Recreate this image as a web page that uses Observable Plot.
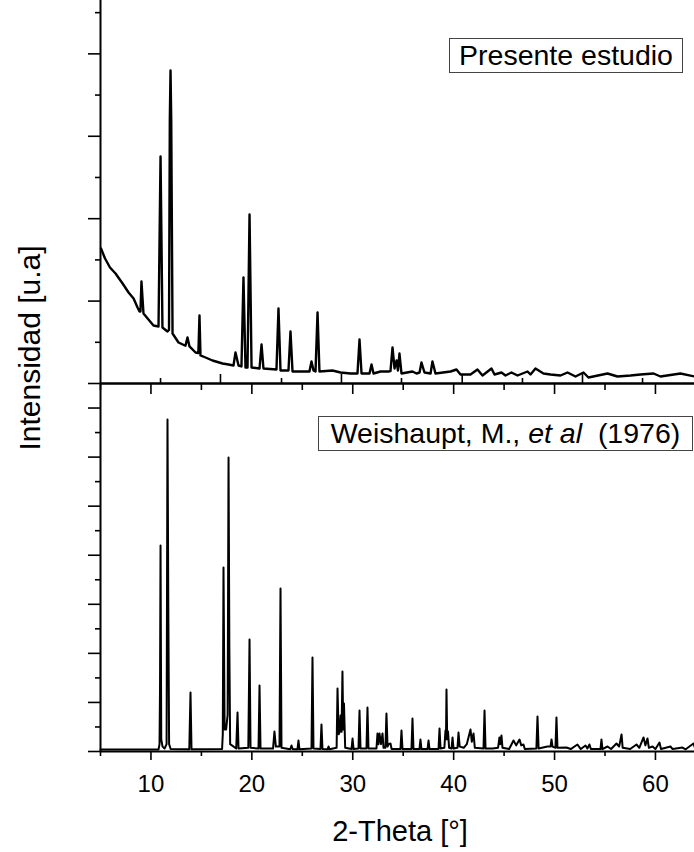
<!DOCTYPE html>
<html>
<head>
<meta charset="utf-8">
<script src="https://cdn.jsdelivr.net/npm/d3@7"></script>
<script src="https://cdn.jsdelivr.net/npm/@observablehq/plot@0.6"></script>
<style>
  html, body { margin: 0; padding: 0; background: #fff; }
  #chart { position: relative; width: 694px; height: 852px; overflow: hidden;
           font-family: "Liberation Sans", Arial, sans-serif; color: #000; }
  #top, #bottom { position: absolute; left: 0; }
  #top { top: 0; }
  #bottom { top: 383px; }
  .box { position: absolute; box-sizing: border-box; border: 1px solid #444; background: #fff;
         font-size: 28.5px; line-height: 33px; text-align: center; white-space: nowrap; }
  #box1 { left: 449px; top: 38px; width: 234px; height: 35px; }
  #box2 { left: 318px; top: 416px; width: 375px; height: 35px; }
  .ylab { position: absolute; left: 30px; top: 348px; font-size: 30px; white-space: nowrap;
          transform: translate(-50%, -50%) rotate(-90deg); }
  .xlab { position: absolute; left: 400px; top: 831px; font-size: 29px; white-space: nowrap;
          transform: translate(-50%, -50%); }
</style>
</head>
<body>
<div id="chart">
  <div id="top"></div>
  <div id="bottom"></div>
  <div class="ylab" id="ylab"></div>
  <div class="xlab" id="xlab"></div>
  <div class="box" id="box1"></div>
  <div class="box" id="box2"></div>
</div>
<script>
// ---------- data ----------
// Present study pattern: [2-theta (deg), intensity (counts)]
const presenteEstudio = [
  [5.05,3276],[5.45,3033],[5.94,2815],[6.49,2670],[7.19,2427],[7.78,2208],[8.28,2063],[8.67,1845],
  [8.87,1747],[8.96,1747],[9.06,2476],[9.26,1699],
  [10.25,1408],[10.75,1383],[10.95,5509],[11.14,1359],[11.64,1262],[11.79,1300],[11.87,6383],
  [11.94,7597],[12.01,6383],[12.14,1214],[12.73,995],[13.42,917],[13.62,1116],[13.82,900],
  [14.42,752],[14.70,740],[14.81,1650],[14.91,680],[15.41,631],[16.10,558],[17.10,485],[17.69,460],[18.18,437],
  [18.38,752],[18.68,437],[18.97,413],[19.17,2573],[19.37,388],[19.57,388],[19.77,4102],
  [19.97,388],[20.76,364],[20.96,947],[21.15,364],[22.44,340],[22.64,1820],[22.84,316],
  [23.63,316],[23.83,1262],[24.03,291],[25.32,291],[25.71,291],[25.91,534],[26.11,316],
  [26.31,291],[26.51,1723],[26.70,291],[27.99,316],[28.79,267],[29.78,243],[30.47,243],
  [30.67,1068],[30.87,243],[31.66,243],[31.86,461],[32.06,243],[32.75,291],[33.54,291],
  [33.74,300],[33.94,874],[34.14,364],[34.34,558],[34.48,316],[34.63,728],[34.83,243],
  [35.92,291],[36.32,243],[36.62,267],[36.81,510],[37.11,267],[37.71,243],[37.90,534],
  [38.20,243],[39.69,291],[40.28,340],[40.68,218],[41.67,218],[42.36,340],[42.86,194],
  [43.75,364],[44.05,218],[44.74,267],[45.14,194],[45.73,267],[46.33,194],[47.32,291],
  [47.62,218],[48.11,364],[48.90,243],[49.60,218],[50.59,194],[51.28,267],[52.08,170],
  [52.87,267],[53.36,146],[55.25,243],[56.24,170],[57.53,194],[58.52,218],[59.81,243],
  [60.50,170],[62.48,243],[63.87,170]
];

// Reference pattern (Weishaupt et al. 1976): [2-theta (deg), intensity (counts)]
const weishaupt1976 = [
  [5.00,80],[10.75,80],[10.85,300],[10.90,2609],[10.95,8399],[11.02,500],[11.15,200],[11.35,120],
  [11.55,300],[11.64,13536],[11.72,5912],[11.80,300],[11.95,100],[13.80,90],[13.92,2405],[14.02,90],
  [17.05,100],[17.12,700],[17.19,7502],[17.30,900],[17.45,900],[17.60,1500],[17.69,11986],[17.77,4240],
  [17.85,300],[18.45,120],[18.58,1590],[18.68,120],[19.65,150],[19.77,4566],[19.87,150],[20.66,120],
  [20.76,2691],[20.86,120],[22.10,120],[22.24,815],[22.38,200],[22.74,200],[22.84,6646],[22.94,150],
  [23.80,90],[23.93,245],[24.05,90],[24.52,90],[24.62,448],[24.72,90],[25.91,120],[26.01,3832],
  [26.11,120],[26.80,100],[26.90,1101],[27.00,100],[27.50,90],[27.60,204],[27.70,90],[28.40,150],
  [28.49,2569],[28.60,700],[28.70,800],[28.79,1468],[28.89,800],[28.98,3262],[29.06,900],[29.13,1957],
  [29.25,150],[29.88,100],[29.98,530],[30.08,100],[30.57,120],[30.67,1672],[30.77,120],[31.36,120],
  [31.46,1794],[31.56,120],[32.35,120],[32.45,734],[32.55,300],[32.65,734],[32.80,300],[32.95,734],
  [33.05,150],[33.24,150],[33.34,1549],[33.45,200],[33.55,300],[33.74,326],[33.85,100],[34.73,100],
  [34.83,856],[34.93,100],[35.82,100],[35.92,1345],[36.02,100],[36.61,100],[36.71,489],[36.81,100],
  [37.41,100],[37.51,448],[37.61,100],[38.50,100],[38.60,938],[38.70,120],[39.08,150],[39.19,856],
  [39.24,500],[39.29,2528],[39.36,500],[39.44,815],[39.55,150],[39.79,120],[39.89,571],[39.99,120],
  [40.38,150],[40.48,775],[40.60,200],[41.00,150],[41.30,300],[41.67,897],[41.80,400],[41.97,734],
  [42.10,150],[42.96,120],[43.06,1672],[43.16,120],[43.85,122],[44.40,150],[44.54,571],[44.62,300],
  [44.74,652],[44.84,150],[45.50,100],[45.93,448],[46.20,250],[46.53,489],[46.70,250],[46.92,285],
  [47.05,100],[48.20,120],[48.31,1427],[48.42,120],[49.30,204],[49.60,200],[49.70,489],[49.80,200],
  [50.09,150],[50.19,1386],[50.29,150],[51.18,163],[51.60,100],[52.27,285],[52.60,100],[53.07,245],
  [53.25,120],[53.46,285],[53.60,100],[54.55,100],[54.65,489],[54.75,100],[55.25,204],[55.60,100],
  [56.14,326],[56.40,200],[56.64,693],[56.75,150],[57.50,100],[58.12,285],[58.40,150],[58.82,571],
  [59.00,250],[59.21,530],[59.35,150],[59.71,204],[60.00,100],[60.40,367],[60.55,100],[61.49,204],
  [61.70,100],[62.68,163],[63.00,90],[63.77,326],[63.87,200]
];

// axis domains and ticks
const xDomain = [5, 63.87];
const xTickLabels = [10, 20, 30, 40, 50, 60];
const xMinorTicks = [5, 15, 25, 35, 45, 55];
const topPanelMajorTicks = [16.89, 28.88, 40.85, 52.77];      // inner ticks of the upper pattern's own axis
const topPanelMinorTicks = [10.95, 22.94, 34.83, 46.82, 58.72];
const topYDomain = [0, 9295];
const topYMajor = [0, 2000, 4000, 6000, 8000];
const topYMinor = [1000, 3000, 5000, 7000, 9000];
const refYDomain = [0, 15000];
const refYMajor = [0, 2000, 4000, 6000, 8000, 10000, 12000, 14000];
const refYMinor = [1000, 3000, 5000, 7000, 9000, 11000, 13000];

const yLabel = "Intensidad [u.a]";
const xLabel = "2-Theta [°]";
const label1 = "Presente estudio";
const label2 = ["Weishaupt, M., ", "et al", "\u00a0 (1976)"];

// ---------- build ----------
const toRows = arr => arr.map(([theta, counts]) => ({theta, counts}));
const blank = () => "";
const AX = 1.6;

const topPlot = Plot.plot({
  width: 694, height: 384,
  marginLeft: 100, marginRight: 0, marginTop: 0, marginBottom: 1,
  style: {background: "transparent", overflow: "visible"},
  x: {domain: xDomain, axis: null},
  y: {domain: topYDomain, axis: null, label: null},
  marks: [
    Plot.axisY({ticks: topYMajor, tickSize: 12, tickFormat: blank, label: null, strokeWidth: AX}),
    Plot.axisY({ticks: topYMinor, tickSize: 5, tickFormat: blank, label: null, strokeWidth: AX}),
    Plot.axisX({anchor: "bottom", ticks: topPanelMajorTicks, tickSize: -9, tickFormat: blank, label: null, strokeWidth: AX}),
    Plot.axisX({anchor: "bottom", ticks: topPanelMinorTicks, tickSize: -5, tickFormat: blank, label: null, strokeWidth: AX}),
    Plot.ruleX([xDomain[0]], {strokeWidth: 2}),
    Plot.ruleY([0], {strokeWidth: 2}),
    Plot.line(toRows(presenteEstudio), {x: "theta", y: "counts", stroke: "#000", strokeWidth: 2.4, strokeLinejoin: "round"})
  ]
});
document.getElementById("top").appendChild(topPlot);

const refPlot = Plot.plot({
  width: 694, height: 469,
  marginLeft: 100, marginRight: 0, marginTop: 0, marginBottom: 101,
  style: {background: "transparent", overflow: "visible", fontFamily: "Liberation Sans, Arial, sans-serif"},
  x: {domain: xDomain, axis: null, label: null},
  y: {domain: refYDomain, axis: null, label: null},
  marks: [
    Plot.axisY({ticks: refYMajor, tickSize: 12, tickFormat: blank, label: null, strokeWidth: AX}),
    Plot.axisY({ticks: refYMinor, tickSize: 5, tickFormat: blank, label: null, strokeWidth: AX}),
    Plot.axisX({anchor: "bottom", ticks: xTickLabels, tickSize: 9, tickPadding: 14, fontSize: 24, label: null, strokeWidth: AX}),
    Plot.axisX({anchor: "bottom", ticks: xMinorTicks, tickSize: 5, tickFormat: blank, label: null, strokeWidth: AX}),
    Plot.axisX({anchor: "top", ticks: xTickLabels, tickSize: -10, tickFormat: blank, label: null, strokeWidth: AX}),
    Plot.axisX({anchor: "top", ticks: xMinorTicks, tickSize: -6, tickFormat: blank, label: null, strokeWidth: AX}),
    Plot.ruleX([xDomain[0]], {strokeWidth: 2}),
    Plot.ruleY([0], {strokeWidth: 2}),
    Plot.ruleY([refYDomain[1]], {strokeWidth: 2}),
    Plot.line(toRows(weishaupt1976), {x: "theta", y: "counts", stroke: "#000", strokeWidth: 2, strokeLinejoin: "round"})
  ]
});
document.getElementById("bottom").appendChild(refPlot);

document.getElementById("ylab").textContent = yLabel;
document.getElementById("xlab").textContent = xLabel;
document.getElementById("box1").textContent = label1;
const b2 = document.getElementById("box2");
b2.append(label2[0]);
const it = document.createElement("i"); it.textContent = label2[1]; b2.append(it);
b2.append(label2[2]);
</script>
</body>
</html>
